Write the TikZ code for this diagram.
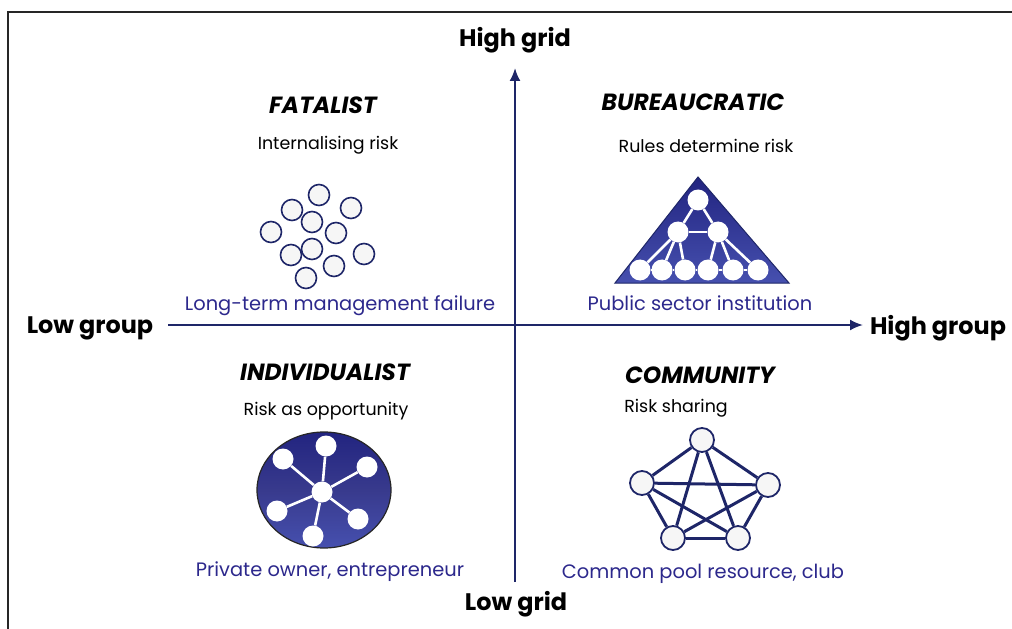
\documentclass[tikz,border=0pt]{standalone}
\usepackage{fontspec}
\setmainfont{Poppins}
\usetikzlibrary{arrows.meta}
\definecolor{navy}{RGB}{30,38,104}
\definecolor{inkblue}{RGB}{44,40,140}
\definecolor{paper}{RGB}{246,246,246}
\definecolor{deepblue}{RGB}{34,36,128}
\definecolor{paleblue}{RGB}{70,80,175}

\tikzset{
	gridaxis/.style={line width=2bp, color=navy, -{Latex[length=13bp,width=11bp]}},
	axislabel/.style={font=\fontsize{24}{28}\selectfont\bfseries},
	kind/.style={font=\fontsize{23.5}{27}\selectfont\bfseries\itshape},
	motto/.style={font=\fontsize{17.5}{21}\selectfont},
	caseline/.style={font=\fontsize{19.5}{23}\selectfont, text=inkblue},
	ring/.style={circle, draw=navy, line width=1.6bp, fill=paper, minimum size=21bp, inner sep=0pt},
	knob/.style={circle, fill=white, minimum size=21bp, inner sep=0pt},
	spoke/.style={line width=2.6bp, white},
	link/.style={line width=3bp, navy},
	peer/.style={circle, draw=navy, line width=1.8bp, fill=paper, minimum size=24bp, inner sep=0pt},
}

\begin{document}
\begin{tikzpicture}[x=1bp, y=-1bp]
			%%%%% START %%%%%
			
			\useasboundingbox (0,0) rectangle (1012,629);
			\clip (0,0) rectangle (1012,629);
			\draw[line width=2bp, color=black!85] (8,12) rectangle (1040,660);
			
			% axes
			\coordinate (gridlow) at (515,582);
			\coordinate (gridhigh) at (515,68);
			\coordinate (grouplow) at (168,325);
			\coordinate (grouphigh) at (863,325);
			\draw[gridaxis] (gridlow) -- (gridhigh);
			\draw[gridaxis] (grouplow) -- (grouphigh);
			
			\node[axislabel] (highgrid) at (515,40) {High grid};
			\node[axislabel] (lowgrid) at (516,604) {Low grid};
			\node[axislabel] (lowgroup) at (90,328) {Low group};
			\node[axislabel] (highgroup) at (938,328) {High group};
			
			% fatalist
			\node[kind] (fatalist) at (323,105) {FATALIST};
			\node[motto] (fatalistrisk) at (328,145) {Internalising risk};
			\foreach \i/\x/\y in {1/319/195, 2/292/210, 3/351/208, 4/312/222, 5/271/232, 6/336/233,
				7/291/255, 8/312/249, 9/364/254, 10/334/266, 11/306/278}
				\node[ring] (f\i) at (\x,\y) {};
			\node[caseline] (fatalistcase) at (340,306) {Long-term management failure};
			
			% bureaucratic
			\node[kind] (bureaucratic) at (693,102) {BUREAUCRATIC};
			\node[motto] (bureaucraticrisk) at (706,146) {Rules determine risk};
			\draw[line width=1bp, draw=navy, top color=deepblue, bottom color=paleblue] (698,177) -- (789,283) -- (615,283) -- cycle;
			\node[knob] (b0) at (698,200) {};
			\node[knob] (b1) at (678,232) {};
			\node[knob] (b2) at (718,232) {};
			\foreach \i/\x in {1/640, 2/662, 3/685, 4/708, 5/733, 6/758}
				\node[knob] (c\i) at (\x,270) {};
			\draw[spoke] (b0) -- (b1);
			\draw[spoke] (b0) -- (b2);
			\draw[spoke] (b1) -- (b2);
			\foreach \i in {1,2,3}
				\draw[spoke] (b1) -- (c\i);
			\foreach \i in {4,5,6}
				\draw[spoke] (b2) -- (c\i);
			\foreach \i/\j in {1/2, 2/3, 3/4, 4/5, 5/6}
				\draw[spoke] (c\i) -- (c\j);
			\node[caseline] (bureaucraticcase) at (700,303) {Public sector institution};
			
			% individualist
			\node[kind] (individualist) at (325,372) {INDIVIDUALIST};
			\node[motto] (individualistrisk) at (326,411) {Risk as opportunity};
			\draw[line width=1.2bp, draw=black!85, top color=deepblue, bottom color=paleblue, middle color=deepblue!90!white] (324,490) ellipse (67 and 58);
			\node[knob] (h0) at (322,492) {};
			\foreach \i/\x/\y in {1/326/446, 2/283/459, 3/367/467, 4/277/511, 5/358/519, 6/313/536}
			{
				\node[knob] (h\i) at (\x,\y) {};
				\draw[spoke] (h0) -- (h\i);
			}
			\node[caseline] (individualistcase) at (330,572) {Private owner, entrepreneur};
			
			% community
			\node[kind] (community) at (700,375) {COMMUNITY};
			\node[motto] (communityrisk) at (676,408) {Risk sharing};
			\foreach \i/\x/\y in {1/702/440, 2/642/483, 3/768/485, 4/673/538, 5/738/538}
				\node[peer] (p\i) at (\x,\y) {};
			\foreach \a/\b in {1/2, 1/3, 1/4, 1/5, 2/3, 2/4, 2/5, 3/4, 3/5, 4/5}
				\draw[link] (p\a) -- (p\b);
			\node[caseline] (communitycase) at (703,574) {Common pool resource, club};
			
			%%%%% END %%%%%
\end{tikzpicture}
\end{document}
